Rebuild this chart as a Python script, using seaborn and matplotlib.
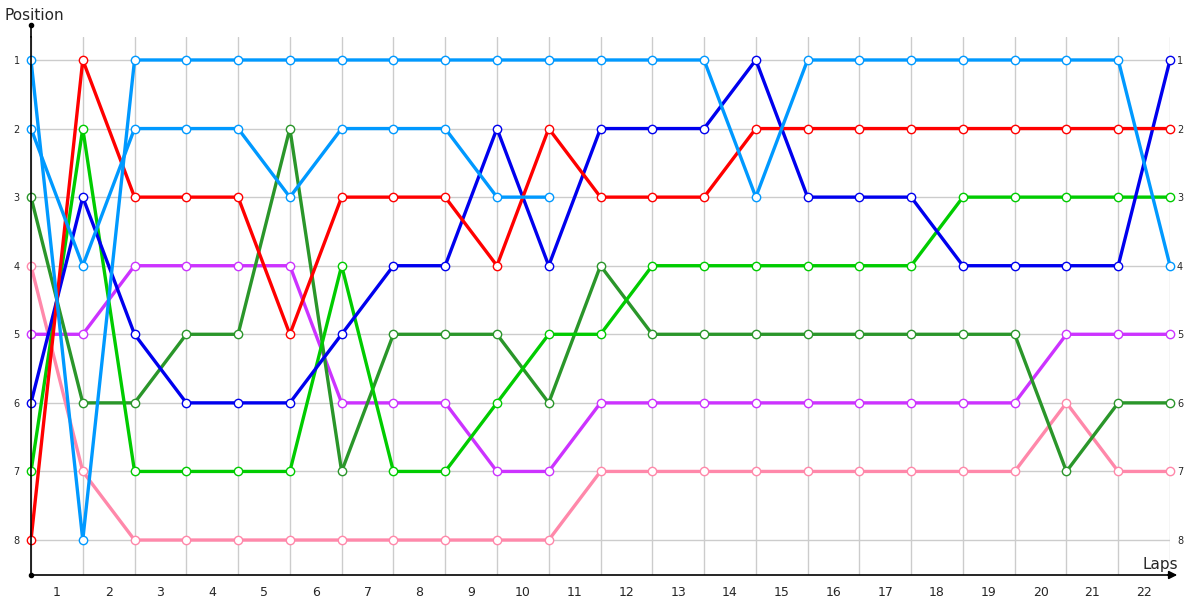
import pandas as pd
import matplotlib
matplotlib.use("Agg")
import matplotlib.pyplot as plt
import seaborn as sns

# positions per lap boundary (0..22)
leader_a = [1, 8, 1, 1, 1, 1, 1, 1, 1, 1, 1, 1, 1, 1, 3, 1, 1, 1, 1, 1, 1, 1, 4]
leader_b = [2, 4, 2, 2, 2, 3, 2, 2, 2, 3, 3]
red = [8, 1, 3, 3, 3, 5, 3, 3, 3, 4, 2, 3, 3, 3, 2, 2, 2, 2, 2, 2, 2, 2, 2]
blue = [6, 3, 5, 6, 6, 6, 5, 4, 4, 2, 4, 2, 2, 2, 1, 3, 3, 3, 4, 4, 4, 4, 1]
green = [7, 2, 7, 7, 7, 7, 4, 7, 7, 6, 5, 5, 4, 4, 4, 4, 4, 4, 3, 3, 3, 3, 3]
dark_green = [3, 6, 6, 5, 5, 2, 7, 5, 5, 5, 6, 4, 5, 5, 5, 5, 5, 5, 5, 5, 7, 6, 6]
purple = [5, 5, 4, 4, 4, 4, 6, 6, 6, 7, 7, 6, 6, 6, 6, 6, 6, 6, 6, 6, 5, 5, 5]
pink = [4, 7, 8, 8, 8, 8, 8, 8, 8, 8, 8, 7, 7, 7, 7, 7, 7, 7, 7, 7, 6, 7, 7]

lap_labels = [str(i) for i in range(1, 23)]
positions = list(range(1, 9))

series = [
    ("pink", pink, "#ff88aa"),
    ("purple", purple, "#cc33ff"),
    ("dark_green", dark_green, "#2a962a"),
    ("green", green, "#00cc00"),
    ("blue", blue, "#0000ee"),
    ("red", red, "#ff0000"),
    ("leader_b", leader_b, "#0099ff"),
    ("leader_a", leader_a, "#0099ff"),
]

sns.set_style("white")
plt.rcParams['font.family'] = ['DejaVu Sans']

fig = plt.figure(figsize=(12, 6), dpi=100)
ax = fig.add_axes([31 / 1200, 25 / 600, (1170 - 31) / 1200, (575 - 37) / 600])

for name, vals, col in series:
    df = pd.DataFrame({"lap": range(len(vals)), "pos": vals})
    sns.lineplot(data=df, x="lap", y="pos", ax=ax, color=col, linewidth=2.4,
                 marker="o", markersize=6, markerfacecolor="white",
                 markeredgecolor=col, markeredgewidth=1.0, clip_on=False)

ax.set_xlim(0, 22)
ax.set_ylim(8.51, 0.665)

ax.set_xticks([i + 0.5 for i in range(22)])
ax.set_xticklabels(lap_labels, fontsize=9)
ax.set_xticks(range(23), minor=True)
ax.set_yticks(positions)
ax.set_yticklabels([str(p) for p in positions], fontsize=7)
ax.tick_params(axis="both", which="both", length=0)
ax.tick_params(axis="x", pad=8)
ax.tick_params(axis="y", pad=8)
ax.grid(True, which="minor", axis="x", color="#cccccc", linewidth=1)
ax.grid(True, which="major", axis="y", color="#cccccc", linewidth=1)
ax.set_axisbelow(True)
ax.set_xlabel("")
ax.set_ylabel("")

for s in ["top", "right"]:
    ax.spines[s].set_visible(False)
for s in ["left", "bottom"]:
    ax.spines[s].set_color("black")
    ax.spines[s].set_linewidth(1.2)

ax2 = ax.twinx()
ax2.set_ylim(ax.get_ylim())
ax2.set_yticks(positions)
ax2.set_yticklabels([str(p) for p in positions], fontsize=7)
ax2.tick_params(axis="y", length=0, pad=5)
for s in ax2.spines.values():
    s.set_visible(False)

# axis extensions: dot at top of y axis, arrow at right end of x axis
fig.add_artist(plt.Line2D([31 / 1200, 31 / 1200], [1 - 37 / 600, 1 - 25 / 600],
                          color="black", linewidth=1.2))
fig.add_artist(plt.Line2D([31 / 1200], [1 - 25 / 600], marker="o", markersize=3,
                          color="black"))
fig.add_artist(plt.Line2D([31 / 1200], [1 - 575 / 600], marker="o", markersize=3,
                          color="black"))
ax.annotate("", xy=(1180 / 1200, 1 - 575 / 600), xytext=(1165 / 1200, 1 - 575 / 600),
            xycoords="figure fraction",
            arrowprops=dict(arrowstyle="-|>", color="black", lw=1.2,
                            mutation_scale=12))
fig.add_artist(plt.Line2D([1170 / 1200, 1172 / 1200], [1 - 575 / 600, 1 - 575 / 600],
                          color="black", linewidth=1.2))

fig.text(4 / 1200, 1 - 15 / 600, "Position", fontsize=11, va="center", ha="left")
fig.text(1143 / 1200, 1 - 565 / 600, "Laps", fontsize=11, va="center", ha="left")

fig.savefig("out.png", dpi=100)
